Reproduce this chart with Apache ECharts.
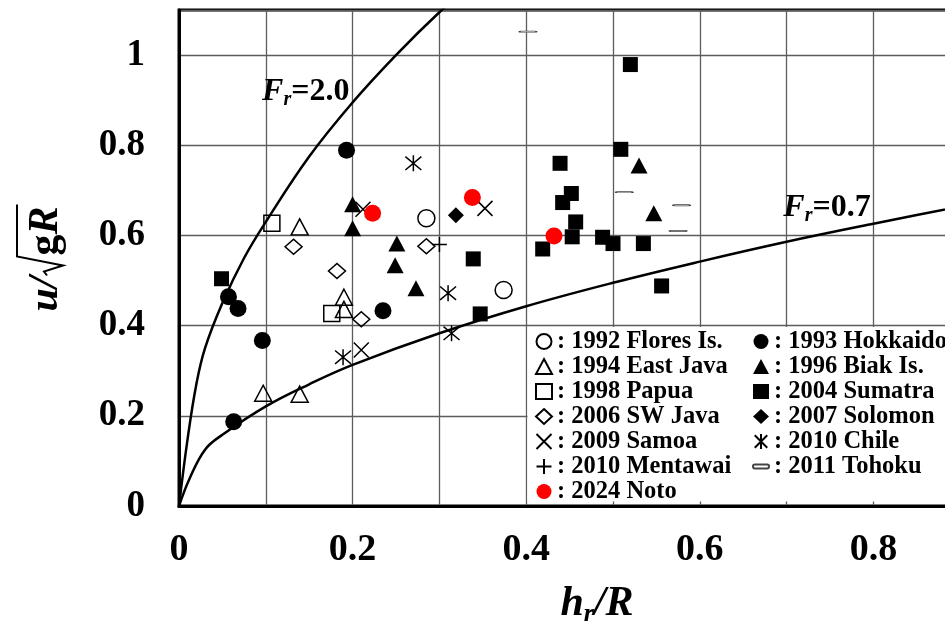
<!DOCTYPE html>
<html><head><meta charset="utf-8">
<script src="https://cdn.jsdelivr.net/npm/echarts@6/dist/echarts.min.js"></script>
<style>html,body{margin:0;padding:0;background:#fff}#c{width:945px;height:629px}</style>
</head><body><div id="c"></div>
<script>
// ---- data (h_r/R, u/sqrt(gR)) ----
const flores   = [[0.285,0.638],[0.374,0.479]];
const hokkaido = [[0.193,0.789],[0.057,0.464],[0.068,0.438],[0.096,0.367],[0.235,0.433],[0.063,0.187]];
const eastJava = [[0.139,0.619],[0.190,0.463],[0.190,0.436],[0.097,0.250],[0.139,0.248]];
const biak     = [[0.200,0.669],[0.200,0.616],[0.251,0.582],[0.249,0.534],[0.273,0.483],[0.530,0.755],[0.547,0.649]];
const papua    = [[0.107,0.627],[0.176,0.427]];
const sumatra  = [[0.520,0.979],[0.509,0.791],[0.439,0.760],[0.452,0.693],[0.442,0.673],[0.457,0.630],[0.453,0.597],
                  [0.419,0.570],[0.488,0.596],[0.500,0.582],[0.535,0.582],[0.556,0.488],[0.339,0.548],[0.347,0.426],[0.049,0.504]];
const swJava   = [[0.132,0.575],[0.285,0.576],[0.182,0.521],[0.210,0.414]];
const solomon  = [[0.319,0.645]];
const samoa    = [[0.212,0.658],[0.3525,0.660],[0.210,0.346]];
const chile    = [[0.270,0.760],[0.310,0.472],[0.314,0.383],[0.189,0.330]];
const mentawai = [[0.300,0.580]];
const tohoku   = [[0.402,1.052],[0.513,0.696],[0.579,0.667],[0.575,0.610]];
const noto     = [[0.223,0.649],[0.338,0.684],[0.432,0.599]];

// reference curves
const curveFr20 = [[0,0],[0.01,0.15],[0.02,0.27],[0.03,0.35],[0.05,0.45],[0.075,0.55],[0.1,0.63],[0.15,0.775],[0.2,0.895],[0.25,1.0],[0.3,1.095],[0.35,1.18]];
const curveFr07 = [[0,0],[0.012,0.06],[0.03,0.125],[0.05,0.158],[0.1,0.221],[0.15,0.27],[0.2,0.313],[0.3,0.383],[0.4,0.443],[0.5,0.495],[0.6,0.542],[0.7,0.586],[0.8,0.626],[0.9,0.664],[1.0,0.7]];
const curveLabels = [
  {name:'2.0', at:[0.146,0.918]},
  {name:'0.7', at:[0.7465,0.661]}
];
const legendBox = [[0.4015,0.01],[1.0,0.397]];

const FONT = '"Liberation Serif","Times New Roman",serif';
const BLACK = '#000';
const GRID = '#5c5c5c';

const P_X = 'path://M0,0L10,10M0,10L10,0';
const P_AST = 'path://M0,0L10,10M0,10L10,0M5,-1L5,11';
const P_PLUS = 'path://M5,0L5,10M0,5L10,5';
const P_BAR = 'path://M2,0H15A2,2,0,0,1,15,4H2A2,2,0,0,1,2,0Z';

const open = {color:'rgba(255,255,255,0)', borderColor:BLACK, borderWidth:1.5, opacity:1};
const filled = {color:BLACK, opacity:1};
const strokeOnly = {color:'rgba(255,255,255,0)', borderColor:BLACK, borderWidth:1.5, opacity:1};

const groups = [
  {name:'1992 Flores Is.', data:flores, symbol:'circle', size:17, style:open},
  {name:'1993 Hokkaido', data:hokkaido, symbol:'circle', size:17, style:filled},
  {name:'1994 East Java', data:eastJava, symbol:'triangle', size:[17,16], style:open},
  {name:'1996 Biak Is.', data:biak, symbol:'triangle', size:[17,16], style:filled},
  {name:'1998 Papua', data:papua, symbol:'rect', size:16, style:open},
  {name:'2004 Sumatra', data:sumatra, symbol:'rect', size:15, style:filled},
  {name:'2006 SW Java', data:swJava, symbol:'diamond', size:[17,15], style:open},
  {name:'2007 Solomon', data:solomon, symbol:'diamond', size:16, style:filled},
  {name:'2009 Samoa', data:samoa, symbol:P_X, size:15, style:strokeOnly},
  {name:'2010 Chile', data:chile, symbol:P_AST, size:16, style:strokeOnly},
  {name:'2010 Mentawai', data:mentawai, symbol:P_PLUS, size:15, style:strokeOnly},
  {name:'2011 Tohoku', data:tohoku, symbol:P_BAR, size:[17,5], style:{color:'#fff', borderColor:'#444', borderWidth:1.3, opacity:1}, keep:true},
  {name:'2024 Noto', data:noto, symbol:'circle', size:17, style:{color:'#ff0000', opacity:1}}
];

const series = groups.map(g => ({
  type:'scatter', name:g.name, data:g.data, symbol:g.symbol, symbolSize:g.size,
  symbolKeepAspect: !!g.keep, itemStyle:g.style, z:3
}));

const curveLabelRich = {
  f:{fontFamily:FONT, fontSize:32, fontStyle:'italic', fontWeight:'bold', color:BLACK},
  r:{fontFamily:FONT, fontSize:20, fontStyle:'italic', fontWeight:'bold', color:BLACK, padding:[16,0,0,0]},
  e:{fontFamily:FONT, fontSize:32, fontWeight:'bold', color:BLACK}
};

series.push({
  type:'line', name:'Fr2.0', data:curveFr20, smooth:0.4, showSymbol:false, silent:true,
  lineStyle:{color:BLACK, width:2.5}, z:2,
  markPoint:{
    symbol:'circle', symbolSize:1, itemStyle:{color:'rgba(0,0,0,0)'}, silent:true,
    label:{show:true, position:'inside', rich:curveLabelRich},
    data: curveLabels.map(c => ({coord:c.at, label:{formatter:'{f|F}{r|r}{e|=' + c.name + '}'}}))
  }
});
series.push({
  type:'line', name:'Fr0.7', data:curveFr07, smooth:0.4, showSymbol:false, silent:true,
  lineStyle:{color:BLACK, width:2.5}, z:2,
  markArea:{silent:true, itemStyle:{color:'#fff', borderWidth:0},
    data:[[{coord:legendBox[0]},{coord:legendBox[1]}]]}
});

const names = groups.map(g => g.name);
const legendText = {fontFamily:FONT, fontSize:24.5, fontWeight:'bold', color:BLACK, lineHeight:25};
function legendCol(left, list){
  return {orient:'vertical', left:left, top:329, padding:0, itemWidth:16, itemHeight:15, itemGap:0,
    selectedMode:false, textStyle:legendText, formatter:n => ': ' + n,
    data:list.map(n => n)};
}

const chart = echarts.init(document.getElementById('c'));

// y-axis title built from measured text pieces
const cv = document.createElement('canvas').getContext('2d');
const FS = 42;
const fIt = 'italic bold ' + FS + 'px ' + FONT;
const fUp = 'bold ' + FS + 'px ' + FONT;
function w(t, f){ cv.font = f; return cv.measureText(t).width; }
let a = 0;
const kids = [];
function txt(t, f){ kids.push({type:'text', x:a, y:-0.34*FS, style:{text:t, font:f, fill:BLACK, textAlign:'left', textVerticalAlign:'middle', verticalAlign:'middle'}}); a += w(t,f); }
txt('u', fIt); txt('/', fIt); a += 1;
const r0 = a;
const gStart = r0 + 20;
a = gStart;
txt('g', fUp); txt('R', fIt);
const L = a + 2;
kids.push({type:'polyline', shape:{points:[[r0,-13],[r0+4,-16],[r0+10,3],[r0+19,-43],[L,-43]]}, style:{stroke:BLACK, lineWidth:2, fill:null}});

chart.setOption({
  animation:false,
  backgroundColor:'#fff',
  grid:{left:179, top:10, right:-102, bottom:123, show:true, borderColor:BLACK, borderWidth:3, backgroundColor:'rgba(0,0,0,0)', containLabel:false, outerBoundsMode:'none'},
  xAxis:{type:'value', min:0, max:1, interval:0.1,
    axisLine:{show:true, onZero:false, lineStyle:{color:BLACK, width:3}},
    axisTick:{show:false},
    splitLine:{show:true, lineStyle:{color:GRID, width:1.3}},
    axisLabel:{margin:25, fontFamily:FONT, fontSize:38, fontWeight:'bold', color:BLACK,
      formatter:v => (Math.round(v*10) % 2 === 0) ? String(+v.toFixed(1)) : ''}
  },
  yAxis:{type:'value', min:0, max:1.1, interval:0.2,
    axisLine:{show:true, onZero:false, lineStyle:{color:BLACK, width:3}},
    axisTick:{show:false},
    splitLine:{show:true, lineStyle:{color:GRID, width:1.3}},
    axisLabel:{margin:34, fontFamily:FONT, fontSize:37, fontWeight:'bold', color:BLACK,
      formatter:v => (Math.round(v*10) % 2 === 0) ? String(+v.toFixed(1)) : ''}
  },
  legend:[legendCol(535, names.filter((n,i)=>i%2===0)), legendCol(752, names.filter((n,i)=>i%2===1))],
  graphic:[
    {type:'group', rotation:Math.PI/2, x:60, y:258 + L/2, children:kids},
    {type:'text', x:597, y:604, style:{
      text:'{h|h}{r|r}{s|/R}', textAlign:'center', textVerticalAlign:'middle', align:'center', verticalAlign:'middle',
      rich:{
        h:{fontFamily:FONT, fontSize:42, fontStyle:'italic', fontWeight:'bold', fill:BLACK, color:BLACK},
        r:{fontFamily:FONT, fontSize:26, fontStyle:'italic', fontWeight:'bold', fill:BLACK, color:BLACK, padding:[20,0,0,0]},
        s:{fontFamily:FONT, fontSize:42, fontStyle:'italic', fontWeight:'bold', fill:BLACK, color:BLACK}
      }}}
  ],
  series:series
});
</script></body></html>
